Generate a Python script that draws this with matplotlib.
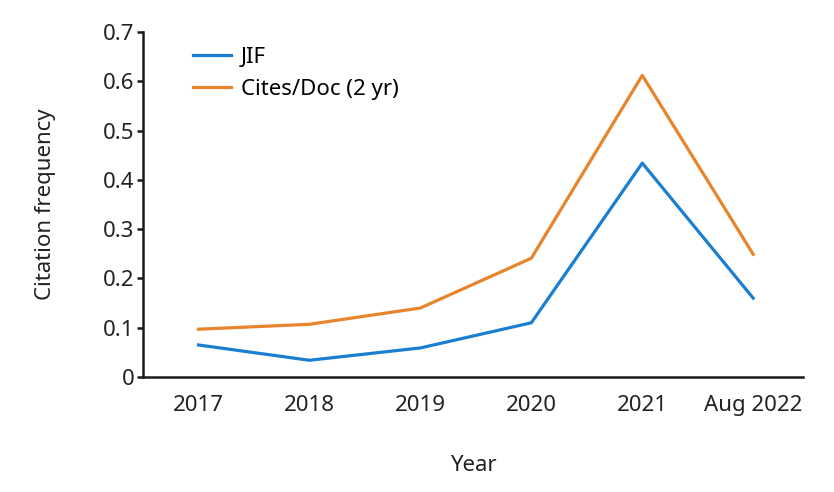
import matplotlib.pyplot as plt
import numpy as np

plt.rcParams["font.family"] = ["Noto Sans", "DejaVu Sans"]

years = ["2017", "2018", "2019", "2020", "2021", "Aug 2022"]
jif = [0.065, 0.034, 0.059, 0.110, 0.434, 0.160]
cites_doc = [0.097, 0.107, 0.140, 0.241, 0.612, 0.249]

x = np.arange(len(years))

fig = plt.figure(figsize=(8.34, 4.92), dpi=100)
ax = fig.add_axes([0.1715, 0.2337, 0.7915, 0.7013])

ax.plot(x, jif, color="#1b7fd1", lw=2.3, label="JIF")
ax.plot(x, cites_doc, color="#e8842c", lw=2.3, label="Cites/Doc (2 yr)")

ax.set_xlim(-0.5, 5.45)
ax.set_ylim(0, 0.7)
ax.set_yticks(np.arange(0, 0.71, 0.1))
ax.set_yticklabels(["0", "0.1", "0.2", "0.3", "0.4", "0.5", "0.6", "0.7"])
ax.set_xticks(x)
ax.set_xticklabels(years)

for s in ["top", "right"]:
    ax.spines[s].set_visible(False)
for s in ["left", "bottom"]:
    ax.spines[s].set_linewidth(1.8)
    ax.spines[s].set_color("#1a1a1a")

ax.tick_params(axis="y", length=4, width=1.8, color="#1a1a1a", labelsize=16, pad=2, labelcolor="#222222")
ax.tick_params(axis="x", length=0, labelsize=16, pad=13, labelcolor="#222222")

ax.set_xlabel("Year", fontsize=16, labelpad=28, color="#222222")
ax.set_ylabel("Citation frequency", fontsize=16, labelpad=34, color="#222222")

ax.legend(loc="upper left", bbox_to_anchor=(0.045, 1.015), frameon=False, fontsize=16,
          handlelength=1.7, handletextpad=0.45, labelspacing=0.5)

fig.savefig("out.png", dpi=100)
